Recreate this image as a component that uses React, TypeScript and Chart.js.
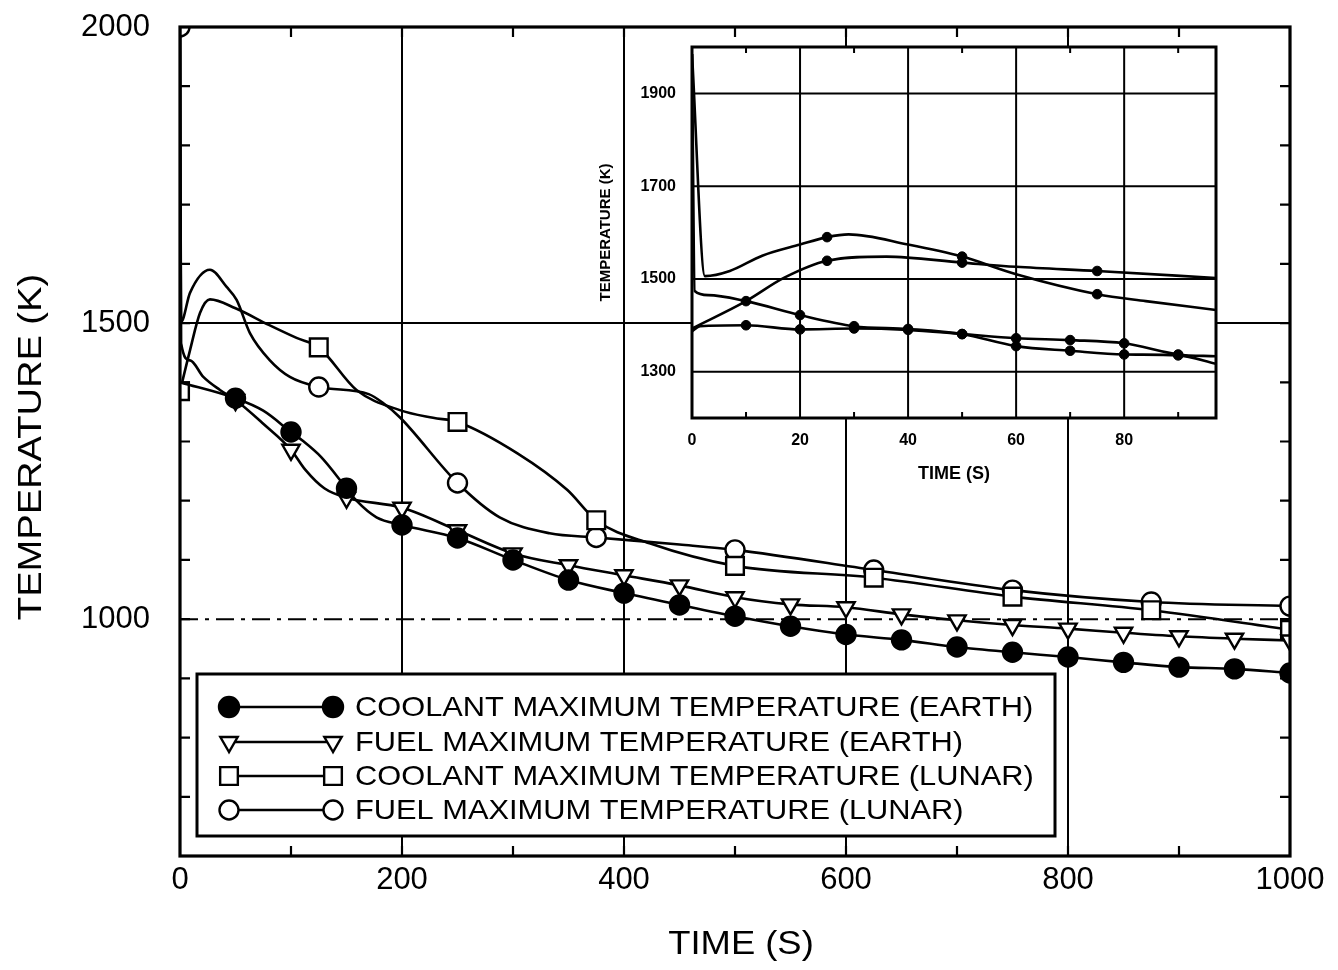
import React, { useEffect, useRef } from "react";
import { Chart, registerables } from "chart.js";

Chart.register(...registerables);

// ---------------- DATA ----------------
const SERIES_LABELS = [
  "COOLANT MAXIMUM TEMPERATURE (EARTH)",
  "FUEL MAXIMUM TEMPERATURE (EARTH)",
  "COOLANT MAXIMUM TEMPERATURE (LUNAR)",
  "FUEL MAXIMUM TEMPERATURE (LUNAR)",
];
const MAIN_X_TITLE = "TIME (S)";
const MAIN_Y_TITLE = "TEMPERATURE (K)";
const INSET_X_TITLE = "TIME (S)";
const INSET_Y_TITLE = "TEMPERATURE (K)";

const MAIN_X_TICKS = [0, 200, 400, 600, 800, 1000];
const MAIN_Y_TICKS = [1000, 1500, 2000];
const MAIN_X_GRID = [200, 400, 600, 800];
const MAIN_Y_GRID = [1000, 1500];
const MAIN_X_MINOR = [100, 200, 300, 400, 500, 600, 700, 800, 900];
const MAIN_Y_MINOR = [700, 800, 900, 1000, 1100, 1200, 1300, 1400, 1500, 1600, 1700, 1800, 1900];

const INSET_X_TICKS = [0, 20, 40, 60, 80];
const INSET_Y_TICKS = [1300, 1500, 1700, 1900];
const INSET_X_MINOR = [10, 30, 50, 70, 90];

// Main chart series (time s, temperature K)
const coolantEarthTime = [0, 50, 75, 100, 110, 127, 150, 159, 177, 200, 250, 300, 350, 400, 450, 500, 550, 600, 650, 700, 750, 800, 850, 900, 950, 1000];
const coolantEarthTemp = [1400, 1373, 1352, 1316, 1302, 1274, 1221, 1200, 1172, 1159, 1137, 1100, 1066, 1044, 1024, 1005, 988, 974, 965, 953, 944, 936, 927, 919, 916, 909];

const fuelEarthTime = [0, 1, 9, 21, 36, 50, 75, 100, 113, 130, 150, 200, 250, 300, 350, 400, 450, 500, 550, 600, 650, 700, 750, 800, 850, 900, 950, 1000];
const fuelEarthTemp = [2000, 1466, 1437, 1409, 1387, 1370, 1330, 1286, 1252, 1221, 1205, 1188, 1150, 1111, 1091, 1074, 1057, 1037, 1025, 1020, 1008, 998, 990, 984, 977, 971, 967, 964];

const coolantLunarTime = [0, 9, 18, 27, 50, 80, 105, 125, 159, 198, 228, 250, 304, 349, 375, 423, 500, 625, 750, 875, 1000];
const coolantLunarTemp = [1385, 1454, 1517, 1540, 1525, 1497, 1475, 1459, 1387, 1353, 1340, 1333, 1280, 1218, 1167, 1128, 1090, 1070, 1038, 1015, 982];

const fuelLunarTime = [0, 1, 9, 27, 42, 51, 63, 81, 99, 125, 170, 183, 198, 250, 288, 333, 375, 450, 500, 625, 750, 875, 1000];
const fuelLunarTemp = [2000, 1502, 1551, 1590, 1561, 1539, 1483, 1437, 1409, 1392, 1380, 1365, 1341, 1230, 1172, 1145, 1138, 1126, 1117, 1083, 1049, 1029, 1022];

const EARTH_MARKER_TIMES = [50, 100, 150, 200, 250, 300, 350, 400, 450, 500, 550, 600, 650, 700, 750, 800, 850, 900, 950, 1000];
const LUNAR_MARKER_TIMES = [0, 125, 250, 375, 500, 625, 750, 875, 1000];

// Inset series (first 100 s)
const insetFuelLunarTime = [0, 2.4, 7, 13, 20, 25, 29, 40, 50, 60, 75, 84, 97];
const insetFuelLunarTemp = [1985, 1506, 1517, 1550, 1574, 1590, 1596, 1574, 1548, 1510, 1467, 1452, 1433];

const insetCoolantLunarTime = [0, 10, 17, 25, 36, 50, 60, 75, 97];
const insetCoolantLunarTemp = [1393, 1452, 1502, 1539, 1548, 1535, 1526, 1517, 1502];

const insetFuelEarthTime = [0, 0.5, 3, 10, 20, 30, 40, 50, 60, 70, 80, 90, 97];
const insetFuelEarthTemp = [1985, 1474, 1465, 1452, 1422, 1398, 1392, 1381, 1355, 1345, 1337, 1335, 1317];

const insetCoolantEarthTime = [0, 1.5, 10, 20, 30, 40, 50, 60, 70, 80, 90, 97];
const insetCoolantEarthTemp = [1387, 1398, 1400, 1391, 1393, 1390, 1381, 1372, 1368, 1361, 1337, 1333];

const INSET_EARTH_MARKERS = [10, 20, 30, 40, 50, 60, 70, 80, 90];
const INSET_LUNAR_MARKERS = [25, 50, 75];

// ---------------- HELPERS ----------------
const FONT = '"Liberation Sans", Arial, sans-serif';

function pts(t: number[], v: number[]) {
  return t.map((x, i) => ({ x, y: v[i] }));
}

function markerRadius(times: number[], r: number) {
  const set = new Set(times);
  return (ctx: any) => (ctx && ctx.raw && set.has(ctx.raw.x) ? r : 0);
}

function drawStretched(
  ctx: CanvasRenderingContext2D,
  text: string,
  x: number,
  y: number,
  font: string,
  scaleX: number,
  align: CanvasTextAlign,
  rotate = 0
) {
  ctx.save();
  ctx.font = font;
  ctx.fillStyle = "#000";
  ctx.translate(x, y);
  ctx.rotate(rotate);
  ctx.scale(scaleX, 1);
  ctx.textAlign = align;
  ctx.textBaseline = "middle";
  ctx.fillText(text, 0, 0);
  ctx.restore();
}

function drawMarker(ctx: CanvasRenderingContext2D, style: string, x: number, y: number, r: number, fill: string, lw: number) {
  ctx.save();
  ctx.beginPath();
  if (style === "circle") {
    ctx.arc(x, y, r, 0, Math.PI * 2);
  } else if (style === "triangle") {
    for (let k = 0; k < 3; k++) {
      const a = Math.PI + (k * 2 * Math.PI) / 3;
      const px = x + Math.sin(a) * r;
      const py = y - Math.cos(a) * r;
      if (k === 0) ctx.moveTo(px, py);
      else ctx.lineTo(px, py);
    }
    ctx.closePath();
  } else {
    const s = Math.SQRT1_2 * r;
    ctx.rect(x - s, y - s, 2 * s, 2 * s);
  }
  ctx.fillStyle = fill;
  ctx.fill();
  ctx.lineWidth = lw;
  ctx.strokeStyle = "#000";
  ctx.stroke();
  ctx.restore();
}

function gridPlugin(id: string, xs: number[], ys: number[], dashedY: number[], width: number) {
  return {
    id,
    beforeDatasetsDraw(chart: any) {
      const { ctx, chartArea } = chart;
      const { left, right, top, bottom } = chartArea;
      const sx = chart.scales.x;
      const sy = chart.scales.y;
      ctx.save();
      ctx.strokeStyle = "#000";
      ctx.lineWidth = width;
      xs.forEach((v) => {
        const p = sx.getPixelForValue(v);
        ctx.beginPath();
        ctx.moveTo(p, top);
        ctx.lineTo(p, bottom);
        ctx.stroke();
      });
      ys.forEach((v) => {
        const p = sy.getPixelForValue(v);
        ctx.setLineDash(dashedY.includes(v) ? [18, 7, 4, 7] : []);
        ctx.beginPath();
        ctx.moveTo(left, p);
        ctx.lineTo(right, p);
        ctx.stroke();
      });
      ctx.restore();
    },
  };
}

function framePlugin(id: string, xs: number[], ys: number[], len: number, frameWidth: number, tickWidth: number) {
  return {
    id,
    afterDatasetsDraw(chart: any) {
      const { ctx, chartArea } = chart;
      const { left, right, top, bottom } = chartArea;
      const sx = chart.scales.x;
      const sy = chart.scales.y;
      ctx.save();
      ctx.strokeStyle = "#000";
      ctx.lineWidth = tickWidth;
      ctx.beginPath();
      xs.forEach((v) => {
        const p = sx.getPixelForValue(v);
        ctx.moveTo(p, bottom);
        ctx.lineTo(p, bottom - len);
        ctx.moveTo(p, top);
        ctx.lineTo(p, top + len);
      });
      ys.forEach((v) => {
        const p = sy.getPixelForValue(v);
        ctx.moveTo(left, p);
        ctx.lineTo(left + len, p);
        ctx.moveTo(right, p);
        ctx.lineTo(right - len, p);
      });
      ctx.stroke();
      ctx.lineWidth = frameWidth;
      ctx.strokeRect(left, top, right - left, bottom - top);
      ctx.restore();
    },
  };
}

const whiteBackground = {
  id: "whiteBackground",
  beforeDraw(chart: any) {
    const { ctx, width, height } = chart;
    ctx.save();
    ctx.fillStyle = "#fff";
    ctx.fillRect(0, 0, width, height);
    ctx.restore();
  },
};

const whiteArea = {
  id: "whiteArea",
  beforeDraw(chart: any) {
    const { ctx, chartArea } = chart;
    ctx.save();
    ctx.fillStyle = "#fff";
    ctx.fillRect(chartArea.left, chartArea.top, chartArea.right - chartArea.left, chartArea.bottom - chartArea.top);
    ctx.restore();
  },
};

const mainTitles = {
  id: "mainTitles",
  afterDraw(chart: any) {
    const { ctx, chartArea } = chart;
    const cx = (chartArea.left + chartArea.right) / 2 + 6;
    drawStretched(ctx, MAIN_X_TITLE, cx, 945, `34px ${FONT}`, 1.07, "center");
    drawStretched(ctx, MAIN_Y_TITLE, 32, 447, `34px ${FONT}`, 1.12, "center", -Math.PI / 2);
  },
};

const mainLegend = {
  id: "mainLegend",
  afterDraw(chart: any) {
    const { ctx } = chart;
    const box = { left: 197, top: 674, right: 1055, bottom: 836 };
    ctx.save();
    ctx.fillStyle = "#fff";
    ctx.fillRect(box.left, box.top, box.right - box.left, box.bottom - box.top);
    ctx.lineWidth = 3;
    ctx.strokeStyle = "#000";
    ctx.strokeRect(box.left, box.top, box.right - box.left, box.bottom - box.top);
    const rows = [707, 742, 776, 810];
    chart.data.datasets.forEach((ds: any, i: number) => {
      const y = rows[i];
      ctx.beginPath();
      ctx.lineWidth = 2.5;
      ctx.moveTo(229, y);
      ctx.lineTo(333, y);
      ctx.stroke();
      drawMarker(ctx, ds.pointStyle, 229, y, ds.legendRadius, ds.pointBackgroundColor, 2.4);
      drawMarker(ctx, ds.pointStyle, 333, y, ds.legendRadius, ds.pointBackgroundColor, 2.4);
      drawStretched(ctx, ds.label, 355, y + 1, `28px ${FONT}`, 1.1, "left");
    });
    ctx.restore();
  },
};

// ---------------- COMPONENT ----------------
export default function App() {
  const mainRef = useRef<HTMLCanvasElement>(null);
  const insetRef = useRef<HTMLCanvasElement>(null);

  useEffect(() => {
    const lineBase = {
      borderColor: "#000",
      borderWidth: 2.6,
      pointBorderColor: "#000",
      pointBorderWidth: 2.4,
      cubicInterpolationMode: "monotone",
      fill: false,
      clip: 0,
    };

    const main = new Chart(mainRef.current as HTMLCanvasElement, {
      type: "line",
      data: {
        datasets: [
          {
            ...lineBase,
            label: SERIES_LABELS[0],
            data: pts(coolantEarthTime, coolantEarthTemp),
            pointStyle: "circle",
            pointBackgroundColor: "#000",
            pointRadius: markerRadius(EARTH_MARKER_TIMES, 9.5),
            legendRadius: 10,
          },
          {
            ...lineBase,
            label: SERIES_LABELS[1],
            data: pts(fuelEarthTime, fuelEarthTemp),
            pointStyle: "triangle",
            pointRotation: 180,
            pointBackgroundColor: "#fff",
            pointRadius: markerRadius(EARTH_MARKER_TIMES, 10),
            legendRadius: 10,
          },
          {
            ...lineBase,
            label: SERIES_LABELS[2],
            data: pts(coolantLunarTime, coolantLunarTemp),
            pointStyle: "rect",
            pointBackgroundColor: "#fff",
            pointRadius: markerRadius(LUNAR_MARKER_TIMES, 12.5),
            legendRadius: 12.5,
          },
          {
            ...lineBase,
            label: SERIES_LABELS[3],
            data: pts(fuelLunarTime, fuelLunarTemp),
            pointStyle: "circle",
            pointBackgroundColor: "#fff",
            pointRadius: markerRadius(LUNAR_MARKER_TIMES, 9.5),
            legendRadius: 9.5,
          },
        ] as any,
      },
      options: {
        animation: false,
        responsive: false,
        devicePixelRatio: 1,
        events: [],
        layout: { padding: { left: 0, right: 48, top: 27, bottom: 0 } },
        plugins: { legend: { display: false }, tooltip: { enabled: false } },
        scales: {
          x: {
            type: "linear",
            min: 0,
            max: 1000,
            grid: { display: false, drawTicks: false },
            border: { display: false },
            afterBuildTicks: (s: any) => {
              s.ticks = MAIN_X_TICKS.map((value) => ({ value }));
            },
            afterFit: (s: any) => {
              s.height = 114;
              s.paddingLeft = 0;
              s.paddingRight = 0;
            },
            ticks: {
              color: "#000",
              padding: 6,
              maxRotation: 0,
              autoSkip: false,
              font: { family: FONT, size: 31 },
              callback: (v: any) => String(v),
            },
          },
          y: {
            type: "linear",
            min: 600,
            max: 2000,
            grid: { display: false, drawTicks: false },
            border: { display: false },
            afterBuildTicks: (s: any) => {
              s.ticks = MAIN_Y_TICKS.map((value) => ({ value }));
            },
            afterFit: (s: any) => {
              s.width = 180;
              s.paddingTop = 0;
              s.paddingBottom = 0;
            },
            ticks: {
              color: "#000",
              padding: 30,
              autoSkip: false,
              font: { family: FONT, size: 31 },
              callback: (v: any) => String(v),
            },
          },
        },
      } as any,
      plugins: [
        whiteBackground,
        gridPlugin("mainGrid", MAIN_X_GRID, MAIN_Y_GRID, [1000], 2),
        framePlugin("mainFrame", MAIN_X_MINOR, MAIN_Y_MINOR, 10, 3.2, 2.2),
        mainTitles,
        mainLegend,
      ] as any,
    });

    const insetBase = {
      borderColor: "#000",
      borderWidth: 2.6,
      pointBorderColor: "#000",
      pointBorderWidth: 1,
      pointBackgroundColor: "#000",
      pointStyle: "circle",
      cubicInterpolationMode: "monotone",
      fill: false,
      clip: 0,
    };

    const inset = new Chart(insetRef.current as HTMLCanvasElement, {
      type: "line",
      data: {
        datasets: [
          { ...insetBase, label: SERIES_LABELS[0], data: pts(insetCoolantEarthTime, insetCoolantEarthTemp), pointRadius: markerRadius(INSET_EARTH_MARKERS, 4.8) },
          { ...insetBase, label: SERIES_LABELS[1], data: pts(insetFuelEarthTime, insetFuelEarthTemp), pointRadius: markerRadius(INSET_EARTH_MARKERS, 4.8) },
          { ...insetBase, label: SERIES_LABELS[2], data: pts(insetCoolantLunarTime, insetCoolantLunarTemp), pointRadius: markerRadius(INSET_LUNAR_MARKERS, 4.8) },
          { ...insetBase, label: SERIES_LABELS[3], data: pts(insetFuelLunarTime, insetFuelLunarTemp), pointRadius: markerRadius(INSET_LUNAR_MARKERS, 4.8) },
        ] as any,
      },
      options: {
        animation: false,
        responsive: false,
        devicePixelRatio: 1,
        events: [],
        layout: { padding: { left: 37, right: 34, top: 47, bottom: 15 } },
        plugins: { legend: { display: false }, tooltip: { enabled: false } },
        scales: {
          x: {
            type: "linear",
            min: 0,
            max: 97,
            grid: { display: false, drawTicks: false },
            border: { display: false },
            afterBuildTicks: (s: any) => {
              s.ticks = INSET_X_TICKS.map((value) => ({ value }));
            },
            afterFit: (s: any) => {
              s.height = 67;
              s.paddingLeft = 0;
              s.paddingRight = 0;
            },
            ticks: {
              color: "#000",
              padding: 13,
              maxRotation: 0,
              autoSkip: false,
              font: { family: FONT, size: 16, weight: "bold" },
              callback: (v: any) => String(v),
            },
            title: {
              display: true,
              text: INSET_X_TITLE,
              color: "#000",
              padding: 0,
              font: { family: FONT, size: 18, weight: "bold" },
            },
          },
          y: {
            type: "linear",
            min: 1200,
            max: 2000,
            grid: { display: false, drawTicks: false },
            border: { display: false },
            afterBuildTicks: (s: any) => {
              s.ticks = INSET_Y_TICKS.map((value) => ({ value }));
            },
            afterFit: (s: any) => {
              s.width = 95;
              s.paddingTop = 0;
              s.paddingBottom = 0;
            },
            ticks: {
              color: "#000",
              padding: 16,
              autoSkip: false,
              font: { family: FONT, size: 16, weight: "bold" },
              callback: (v: any) => String(v),
            },
            title: {
              display: true,
              text: INSET_Y_TITLE,
              color: "#000",
              padding: 0,
              font: { family: FONT, size: 15, weight: "bold" },
            },
          },
        },
      } as any,
      plugins: [
        whiteArea,
        gridPlugin("insetGrid", [20, 40, 60, 80], INSET_Y_TICKS, [], 2),
        framePlugin("insetFrame", INSET_X_MINOR, [], 6, 3, 2),
      ] as any,
    });

    return () => {
      main.destroy();
      inset.destroy();
    };
  }, []);

  return (
    <div style={{ position: "absolute", left: 0, top: 0, width: 1338, height: 970, background: "#fff", overflow: "hidden" }}>
      <canvas ref={mainRef} width={1338} height={970} style={{ position: "absolute", left: 0, top: 0, width: 1338, height: 970 }} />
      <canvas ref={insetRef} width={690} height={500} style={{ position: "absolute", left: 560, top: 0, width: 690, height: 500 }} />
    </div>
  );
}
